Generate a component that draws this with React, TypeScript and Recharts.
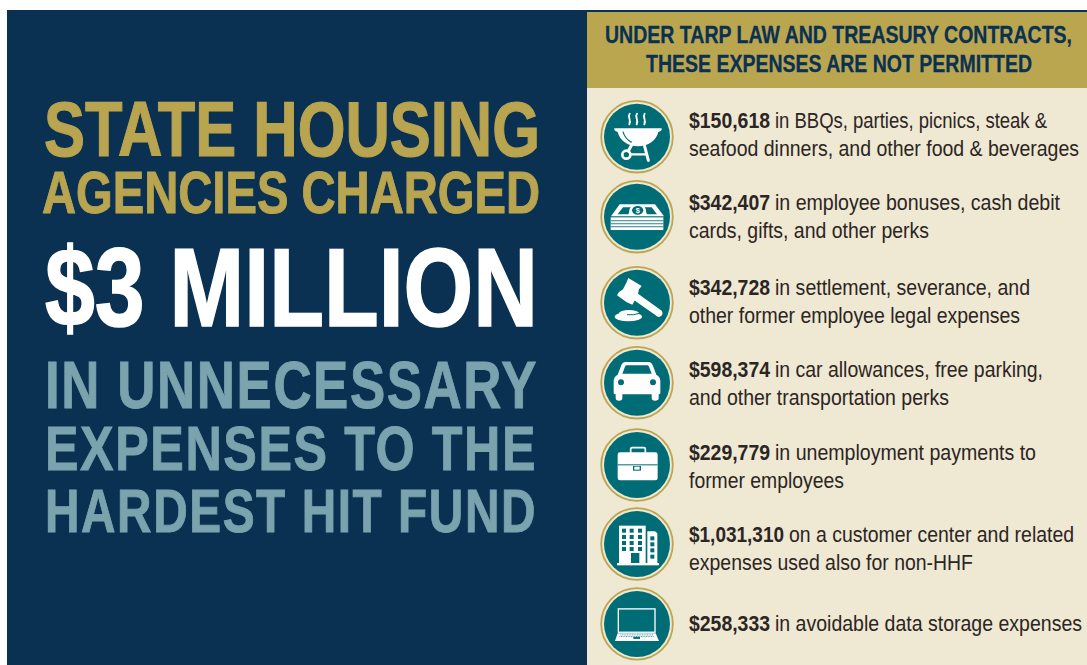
import { ReferenceArea, Scatter, ScatterChart, XAxis, YAxis } from 'recharts'

const amounts = [150618, 342407, 342728, 598374, 229779, 1031310, 258333]
const lineOne = [
  'in BBQs, parties, picnics, steak &',
  'in employee bonuses, cash debit',
  'in settlement, severance, and',
  'in car allowances, free parking,',
  'in unemployment payments to',
  'on a customer center and related',
  'in avoidable data storage expenses',
]
const lineTwo = [
  'seafood dinners, and other food & beverages',
  'cards, gifts, and other perks',
  'other former employee legal expenses',
  'and other transportation perks',
  'former employees',
  'expenses used also for non-HHF',
  '',
]
const icons = ['grill', 'cash', 'gavel', 'car', 'case', 'office', 'laptop']

const headlineLines = [
  'STATE HOUSING',
  'AGENCIES CHARGED',
  '$3 MILLION',
  'IN UNNECESSARY',
  'EXPENSES TO THE',
  'HARDEST HIT FUND',
]
const bannerLines = ['UNDER TARP LAW AND TREASURY CONTRACTS,', 'THESE EXPENSES ARE NOT PERMITTED']

const NAVY = '#0B3152'
const GOLD = '#BBA650'
const HEAD_GOLD = '#B9A44F'
const SLATE = '#7BA3AE'
const CREAM = '#EFE8D3'
const TEAL = '#006C75'
const INK = '#2B2523'
const FONT = '"Liberation Sans", Arial, sans-serif'

// layout only, nothing here is a value from the chart
const headlineStyle = [
  { x: 44, y: 156, size: 77, width: 496, fill: HEAD_GOLD, spacing: 0, weight: 1.2 },
  { x: 42, y: 213, size: 59, width: 498, fill: HEAD_GOLD, spacing: 0, weight: 1 },
  { x: 45, y: 325.5, size: 112, width: 493, fill: '#FFFFFF', spacing: 0, weight: 1.6 },
  { x: 45, y: 408, size: 66, width: 493, fill: SLATE, spacing: 2, weight: 0.9 },
  { x: 45, y: 470, size: 63, width: 492, fill: SLATE, spacing: 2, weight: 0.9 },
  { x: 45, y: 532, size: 61, width: 492, fill: SLATE, spacing: 2, weight: 0.9 },
]
const bannerStyle = [
  { x: 605, y: 43, width: 467 },
  { x: 646, y: 72, width: 386 },
]
const iconNudge = [0, -1.2, 3.6, 2.4, 3.5, 1.3, 0]
const textNudge = [-8.7, -7.9, -4.1, -3.3, -1.5, -0.7, 7.1]
const boldWidth = [81, 81, 81, 81, 81, 95, 81]
const lineOneWidth = [358, 371, 341, 354, 347, 385, 393]
const lineTwoWidth = [390, 240, 331, 260, 155, 284, 0]

const rows = amounts.map((amount, i) => ({
  x: 637,
  rank: i,
  amount,
  first: lineOne[i],
  second: lineTwo[i],
  icon: icons[i],
  i,
}))
const headlines = headlineLines.map((text, i) => ({ text, ...headlineStyle[i] }))
const banners = bannerLines.map((text, i) => ({ text, ...bannerStyle[i] }))

function GrillIcon() {
  return (
    <g>
      <g fill="none" stroke="#fff" strokeWidth={5.5} strokeLinecap="round">
        <path d="M104 56 C96 66 110 72 103 88" />
        <path d="M126 56 C118 66 132 72 125 88" />
        <path d="M149 56 C141 66 155 72 148 88" />
      </g>
      <path
        d="M58 100 H200 Q202 108 190 111 C184 136 160 154 129 154 C98 154 74 136 68 111 Q56 108 58 100 Z"
        fill="#fff"
      />
      <path d="M84 110 Q90 132 110 142" fill="none" stroke={TEAL} strokeWidth={3.5} />
      <g fill="none" stroke="#fff" strokeWidth={9} strokeLinecap="round">
        <path d="M110 150 L100 168" />
        <path d="M148 150 L160 196" />
        <path d="M108 178 H154" strokeWidth={7} />
      </g>
      <circle cx={94} cy={179} r={12} fill="none" stroke="#fff" strokeWidth={8} />
    </g>
  )
}

function CashIcon() {
  return (
    <g>
      <path d="M48 364 L74 328 H180 L207 364 Z" fill="#fff" />
      <path d="M68 358 L84 337 H108 L100 358 Z" fill={TEAL} />
      <path d="M186 358 L170 337 H148 L156 358 Z" fill={TEAL} />
      <ellipse cx={128} cy={346} rx={25} ry={16} fill="#fff" />
      <ellipse cx={128} cy={346} rx={17} ry={13} fill={TEAL} />
      <text x={128} y={354} textAnchor="middle" fontSize={22} fontWeight={700} fill="#fff" fontFamily={FONT}>
        $
      </text>
      <rect x={47} y={367} width={158} height={38} fill="#fff" />
      {[376, 385, 394].map((y) => (
        <rect key={y} x={47} y={y} width={158} height={2.5} fill={TEAL} />
      ))}
    </g>
  )
}

function GavelIcon() {
  return (
    <g fill="#fff">
      <path d="M100 48 L140 72 L132 82 L128 100 L112 128 L94 120 L66 100 L72 90 L84 82 L94 62 Z" />
      <path d="M122 90 L200 146 Q206 156 198 162 Q190 168 182 160 L108 108 Z" />
      <ellipse cx={100} cy={164} rx={41} ry={14} />
      <ellipse cx={102} cy={153} rx={30} ry={9} />
      <path d="M96 158 Q118 160 132 154" fill="none" stroke={TEAL} strokeWidth={3} />
    </g>
  )
}

function CarIcon() {
  return (
    <g>
      <path
        d="M92 300 H160 Q170 300 174 312 L184 338 Q196 344 196 358 V394 Q196 397 191 397 V408 Q191 416 180 416 Q170 416 170 408 V397 H82 V408 Q82 416 72 416 Q62 416 62 408 V397 Q56 397 56 394 V358 Q56 344 68 338 L78 312 Q82 300 92 300 Z"
        fill="#fff"
      />
      <path d="M95 310 H157 Q160 310 162 314 L170 335 H82 L90 314 Q92 310 95 310 Z" fill={TEAL} />
      <circle cx={78} cy={361} r={9} fill={TEAL} />
      <circle cx={174} cy={361} r={9} fill={TEAL} />
    </g>
  )
}

function CaseIcon() {
  return (
    <g>
      <rect x={107} y={68} width={44} height={20} rx={4} fill="none" stroke="#fff" strokeWidth={5} />
      <rect x={68} y={82} width={120} height={84} rx={7} fill="#fff" />
      <rect x={68} y={118} width={120} height={3} fill={TEAL} />
      <rect x={114} y={123} width={24} height={14} fill={TEAL} />
      <rect x={118} y={125} width={16} height={9} fill="#fff" />
    </g>
  )
}

function OfficeIcon() {
  return (
    <g>
      <rect x={72} y={303} width={80} height={113} fill="#fff" />
      <path d="M157 320 H180 L187 326 V416 H157 Z" fill="#fff" />
      <rect x={66} y={415} width={126} height={7} fill="#fff" />
      {[87, 110, 135].flatMap((cx) =>
        [318, 337, 355, 373].map((cy) => (
          <rect key={`${cx}-${cy}`} x={cx - 6} y={cy - 6} width={12} height={12} fill={TEAL} />
        )),
      )}
      {[341, 359, 377, 396].map((cy) => (
        <rect key={cy} x={166} y={cy - 6} width={12} height={12} fill={TEAL} />
      ))}
      <rect x={108} y={385} width={25} height={30} fill={TEAL} />
    </g>
  )
}

function LaptopIcon() {
  return (
    <g>
      <rect x={70} y={552} width={110} height={70} fill={TEAL} stroke="#fff" strokeWidth={4} />
      <path d="M68 625 H182 L192 648 H60 Z" fill="#fff" />
      <path d="M76 630 H174" stroke={TEAL} strokeWidth={2} strokeDasharray="3 2" />
      <path d="M73 635 H178" stroke={TEAL} strokeWidth={2} strokeDasharray="3 2" />
      <rect x={115} y={636} width={20} height={6} fill={TEAL} />
    </g>
  )
}

const iconParts: Record<string, { node: any; ox: number; oy: number }> = {
  grill: { node: <GrillIcon />, ox: 126, oy: 125 },
  cash: { node: <CashIcon />, ox: 126, oy: 365 },
  gavel: { node: <GavelIcon />, ox: 126, oy: 122 },
  car: { node: <CarIcon />, ox: 126, oy: 362 },
  case: { node: <CaseIcon />, ox: 126, oy: 120 },
  office: { node: <OfficeIcon />, ox: 126, oy: 358 },
  laptop: { node: <LaptopIcon />, ox: 126, oy: 597 },
}

function RowMark({ cx, cy, payload }: any) {
  const { i, icon, amount, first, second } = payload
  const part = iconParts[icon]
  const iy = cy + iconNudge[i]
  const ty = cy + textNudge[i]
  const tx = cx + 52
  return (
    <g>
      <circle cx={cx} cy={iy} r={35.8} fill={CREAM} stroke={GOLD} strokeWidth={1.8} />
      <circle cx={cx} cy={iy} r={33} fill={TEAL} />
      <g transform={`translate(${cx},${iy}) scale(${1 / 3}) translate(${-part.ox},${-part.oy})`}>{part.node}</g>
      <g fontFamily={FONT} fontSize={22} fill={INK}>
        <text x={tx} y={ty} fontWeight={700} textLength={boldWidth[i]} lengthAdjust="spacingAndGlyphs">
          {`$${amount.toLocaleString('en-US')}`}
        </text>
        <text
          x={tx + boldWidth[i] + 5}
          y={ty}
          textLength={lineOneWidth[i] - boldWidth[i] - 5}
          lengthAdjust="spacingAndGlyphs"
        >
          {first}
        </text>
        {second && (
          <text x={tx} y={ty + 28} textLength={lineTwoWidth[i]} lengthAdjust="spacingAndGlyphs">
            {second}
          </text>
        )}
      </g>
    </g>
  )
}

function HeadlineMark({ cx, cy, payload }: any) {
  return (
    <text
      x={cx}
      y={cy}
      fontFamily={FONT}
      fontWeight={700}
      fontSize={payload.size}
      fill={payload.fill}
      stroke={payload.fill}
      strokeWidth={payload.weight}
      letterSpacing={payload.spacing}
      textLength={payload.width}
      lengthAdjust="spacingAndGlyphs"
    >
      {payload.text}
    </text>
  )
}

function BannerMark({ cx, cy, payload }: any) {
  return (
    <text
      x={cx}
      y={cy}
      fontFamily={FONT}
      fontWeight={700}
      fontSize={23}
      fill={NAVY}
      stroke={NAVY}
      strokeWidth={0.3}
      textLength={payload.width}
      lengthAdjust="spacingAndGlyphs"
    >
      {payload.text}
    </text>
  )
}

export default function App() {
  return (
    <div style={{ position: 'absolute', left: 0, top: 0, width: 1087, height: 665, background: '#fff' }}>
      <ScatterChart width={1087} height={665} margin={{ top: 0, right: 0, bottom: 0, left: 0 }}>
        <XAxis type="number" dataKey="x" domain={[0, 1087]} hide />
        <YAxis yAxisId="px" type="number" dataKey="y" domain={[0, 665]} reversed hide width={0} />
        <YAxis
          yAxisId="rows"
          type="number"
          dataKey="rank"
          domain={[0, 6]}
          reversed
          hide
          width={0}
          padding={{ top: 136.7, bottom: 41.1 }}
        />
        <ReferenceArea yAxisId="px" x1={7} x2={587} y1={10} y2={665} fill={NAVY} fillOpacity={1} stroke="none" />
        <ReferenceArea yAxisId="px" x1={587} x2={1087} y1={10} y2={12} fill={NAVY} fillOpacity={1} stroke="none" />
        <ReferenceArea yAxisId="px" x1={587} x2={1087} y1={12} y2={88} fill={GOLD} fillOpacity={1} stroke="none" />
        <ReferenceArea yAxisId="px" x1={587} x2={1087} y1={88} y2={665} fill={CREAM} fillOpacity={1} stroke="none" />
        <Scatter yAxisId="px" data={headlines} shape={HeadlineMark} isAnimationActive={false} />
        <Scatter yAxisId="px" data={banners} shape={BannerMark} isAnimationActive={false} />
        <Scatter yAxisId="rows" data={rows} shape={RowMark} isAnimationActive={false} />
      </ScatterChart>
    </div>
  )
}
